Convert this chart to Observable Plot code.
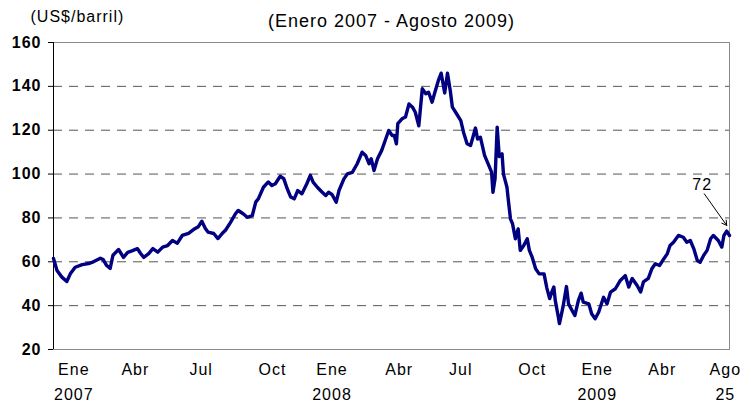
<!DOCTYPE html>
<html><head><meta charset="utf-8">
<script src="https://cdn.jsdelivr.net/npm/d3@7"></script>
<script src="https://cdn.jsdelivr.net/npm/@observablehq/plot@0.6"></script>
<style>
body{margin:0;background:#fff}
#chart svg text{letter-spacing:1px}
</style></head><body><div id="chart"></div>
<script>
const dates2007 = ["2007-01-02","2007-01-07","2007-01-14","2007-01-21","2007-01-26","2007-02-02","2007-02-12","2007-02-21","2007-02-28","2007-03-10","2007-03-14","2007-03-19","2007-03-24","2007-03-28","2007-04-05","2007-04-12","2007-04-18","2007-04-24","2007-05-02","2007-05-06","2007-05-11","2007-05-18","2007-05-24","2007-05-31","2007-06-07","2007-06-14","2007-06-21","2007-06-28","2007-07-05","2007-07-14","2007-07-21","2007-07-28","2007-08-02","2007-08-07","2007-08-11","2007-08-19","2007-08-25","2007-08-31","2007-09-05","2007-09-12","2007-09-19","2007-09-23","2007-09-30","2007-10-06","2007-10-13","2007-10-18","2007-10-22","2007-10-29","2007-11-05","2007-11-10","2007-11-15","2007-11-22","2007-11-27","2007-12-02","2007-12-07","2007-12-12","2007-12-17","2007-12-23","2007-12-30"];
const prices2007 = [61.5,56,53,51,54.5,57.5,58.7,59.2,60,61.6,61,58.3,57,63,65.6,62,64.3,65,66,64,62,63.7,66,64.4,66.7,67.4,69.7,68.5,72,73,74.7,76,78.5,75.2,73.5,72.9,70.6,72.9,74.5,78,81.9,83.4,81.9,80.3,81,87.2,88.9,94,96.4,94.8,95.6,99,97.9,93.3,89.5,88.7,92.5,91,95.6];
const dates2008 = ["2008-01-04","2008-01-08","2008-01-14","2008-01-21","2008-01-26","2008-01-30","2008-02-04","2008-02-10","2008-02-14","2008-02-21","2008-02-26","2008-03-04","2008-03-11","2008-03-18","2008-03-23","2008-03-28","2008-03-31","2008-04-04","2008-04-09","2008-04-15","2008-04-20","2008-04-25","2008-04-30","2008-05-03","2008-05-06","2008-05-08","2008-05-14","2008-05-19","2008-05-24","2008-05-29","2008-06-02","2008-06-07","2008-06-12","2008-06-17","2008-06-21","2008-06-26","2008-06-30","2008-07-05","2008-07-09","2008-07-14","2008-07-18","2008-07-22","2008-07-25","2008-07-31","2008-08-06","2008-08-10","2008-08-15","2008-08-20","2008-08-27","2008-08-30","2008-09-03","2008-09-09","2008-09-15","2008-09-19","2008-09-21","2008-09-24","2008-09-27","2008-09-30","2008-10-04","2008-10-06","2008-10-11","2008-10-13","2008-10-16","2008-10-19","2008-10-23","2008-10-27","2008-10-30","2008-11-04","2008-11-09","2008-11-12","2008-11-16","2008-11-21","2008-11-26","2008-12-03","2008-12-07","2008-12-11","2008-12-14","2008-12-17","2008-12-19","2008-12-23","2008-12-25","2008-12-30"];
const prices2008 = [99.4,96.3,94,91.7,90.2,91.7,90.7,87.2,92.5,97.8,100.1,100.8,104.7,110,108.5,104.7,107,101.6,107,110.8,115.3,119.9,117.6,117.6,113.8,123,125.2,126,132,130.5,128.2,122,138.9,136.6,137.3,132.8,137.3,142.7,146,137,146,138,130.5,127.5,124.4,119,113.8,113,121,116,116.8,108.5,104,100.9,91.7,98,121.4,108,109.2,100,94,88,79.6,77.3,70.5,75,65.2,67.4,70.5,65.2,62.1,56.8,54.5,54.5,48,43.2,46.2,48.5,42.4,35.5,31.8,39.3];
const dates2009 = ["2009-01-04","2009-01-07","2009-01-12","2009-01-16","2009-01-21","2009-01-25","2009-01-28","2009-02-05","2009-02-09","2009-02-14","2009-02-19","2009-02-26","2009-03-03","2009-03-08","2009-03-15","2009-03-22","2009-03-29","2009-04-03","2009-04-08","2009-04-15","2009-04-20","2009-04-24","2009-05-01","2009-05-06","2009-05-11","2009-05-17","2009-05-23","2009-05-28","2009-06-01","2009-06-06","2009-06-13","2009-06-20","2009-06-25","2009-06-30","2009-07-05","2009-07-10","2009-07-14","2009-07-19","2009-07-24","2009-07-29","2009-08-02","2009-08-09","2009-08-14","2009-08-17","2009-08-21","2009-08-25"];
const prices2009 = [48.7,40.8,37.8,35.5,42.3,45.7,41.6,40.8,36.3,34,37,43.8,40.8,46.2,47.7,51.5,53.7,48.5,52.4,49.2,46.2,50.8,52.4,56.8,59.1,58.3,61.3,63.6,67.4,68.9,72,71.2,68.9,69.7,65.9,60.6,59.8,62.9,65.2,70.5,72,69.7,66.7,72,74,72];

const tickDates = ["2007-01-31","2007-04-29","2007-08-01","2007-11-11","2008-02-04","2008-05-10","2008-08-06","2008-11-16","2009-02-17","2009-05-21","2009-08-19"];
const tickMonths = ["Ene","Abr","Jul","Oct","Ene","Abr","Jul","Oct","Ene","Abr","Ago"];
const tickYears = ["2007","","","","2008","","","","2009","","25"];
const yTicks = [20,40,60,80,100,120,140,160];
const gridValues = [40,60,80,100,120,140];
const titleText = "(Enero 2007 - Agosto 2009)";
const unitText = "(US$/barril)";

const allDates = dates2007.concat(dates2008, dates2009);
const allPrices = prices2007.concat(prices2008, prices2009);
const data = allDates.map((d, i) => ({date: new Date(d), price: allPrices[i]}));
const xTicks = tickDates.map((d, i) => ({date: new Date(d), label: tickMonths[i] + "\n" + tickYears[i]}));
const xStart = data[0].date, xEnd = data[data.length - 1].date;
const last = data[data.length - 1];
const off = (d, n) => d3.utcDay.offset(d, n);

const chart = Plot.plot({
  width: 751, height: 403,
  marginLeft: 53, marginRight: 22, marginTop: 42, marginBottom: 54,
  style: {fontFamily: "'Liberation Sans', Arial, sans-serif", color: "#000", background: "#fff", overflow: "visible"},
  x: {type: "utc", domain: [xStart, xEnd], axis: null},
  y: {domain: [20, 160]},
  marks: [
    Plot.ruleY(gridValues, {stroke: "#555", strokeDasharray: "9,7", strokeWidth: 1}),
    Plot.frame({stroke: "#8a8a8a", strokeWidth: 1}),
    Plot.ruleX([xStart], {stroke: "#000", strokeWidth: 1}),
    Plot.axisY(yTicks, {tickSize: 5, tickPadding: 7, fontSize: 16, fontWeight: "bold", label: null, stroke: "#000"}),
    Plot.line(data, {x: "date", y: "price", stroke: "#000080", strokeWidth: 3.4, strokeLinejoin: "round"}),
    Plot.text(xTicks, {x: "date", text: "label", frameAnchor: "bottom", lineAnchor: "top", dy: 8, fontSize: 16, lineHeight: 1.55, fill: "#000"}),
    Plot.arrow([last], {x1: d => off(d.date, -36), y1: d => d.price + 19, x2: d => off(d.date, -4), y2: d => d.price + 4.6, stroke: "#000", strokeWidth: 1, headLength: 8}),
    Plot.text([last], {x: d => off(d.date, -39), y: d => d.price + 23, text: d => d3.format(".0f")(d.price), fontSize: 16, fill: "#000"}),
    Plot.text([titleText], {frameAnchor: "top", lineAnchor: "middle", dy: -21, fontSize: 18, fill: "#000"}),
    Plot.text([unitText], {frameAnchor: "top-left", lineAnchor: "middle", dx: -23, dy: -26, textAnchor: "start", fontSize: 16, fill: "#000"})
  ]
});
document.getElementById("chart").appendChild(chart);
</script></body></html>
